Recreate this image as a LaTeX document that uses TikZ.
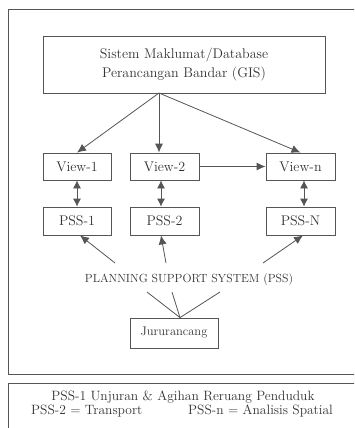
\documentclass[tikz,border=0pt]{standalone}
\usetikzlibrary{arrows.meta,calc}
\definecolor{ln}{HTML}{555555}
\definecolor{tx}{HTML}{333333}
\begin{document}
\begin{tikzpicture}[x=1pt,y=-1pt,
  box/.style={draw=ln,line width=0.8pt,text=tx,inner sep=0pt,font=\fontsize{14}{18.5}\selectfont},
  arr/.style={draw=ln,line width=0.8pt,-{Latex[length=9pt,width=8pt]}},
  darr/.style={draw=ln,line width=0.8pt,{Latex[length=8pt,width=8pt]}-{Latex[length=8pt,width=8pt]}},
  plain/.style={draw=ln,line width=0.8pt},
  lbl/.style={text=tx,inner sep=0pt}]
\useasboundingbox (0,0) rectangle (354,428);
\fill[white] (0,0) rectangle (354,428);
\begin{scope}
\clip (0,0) rectangle (354,428);
\draw[ln,line width=0.8pt] (8,9) rectangle (370,374);
\draw[ln,line width=0.8pt] (8,383) rectangle (370,440);
\end{scope}
\node[box,minimum width=282pt,minimum height=57pt,align=center] (gis) at (184,64.5)
  {Sistem Maklumat/Database\\Perancangan Bandar (GIS)};
\node[box,minimum width=68pt,minimum height=27pt] (v1) at (77,166.5) {View-1};
\node[box,minimum width=69pt,minimum height=27pt] (v2) at (164.5,166.5) {View-2};
\node[box,minimum width=69pt,minimum height=27pt] (vn) at (300.5,166.5) {View-n};
\node[box,minimum width=68pt,minimum height=28pt] (p1) at (77,221) {PSS-1};
\node[box,minimum width=69pt,minimum height=28pt] (p2) at (164.5,221) {PSS-2};
\node[box,minimum width=69pt,minimum height=28pt] (pn) at (300.5,221) {PSS-N};
\node[lbl,font=\fontsize{11.8}{14}\selectfont] (pss) at (189,280) {PLANNING SUPPORT SYSTEM (PSS)};
\node[box,minimum width=88pt,minimum height=30pt,font=\fontsize{12.5}{14}\selectfont] (jur) at (174,333) {Jururancang};
\coordinate (g) at (159,93);
\draw[arr] (g) -- (v1.north);
\draw[arr] (g) -- (v2.north -| g);
\draw[arr] (g) -- (vn.north);
\draw[arr] (v2.east) -- (vn.west);
\draw[darr] (v1.south) -- (p1.north);
\draw[darr] (v2.south -| 161,0) -- (p2.north -| 161,0);
\draw[darr] (vn.south -| 304,0) -- (pn.north -| 304,0);
\coordinate (s1) at (115,263);
\coordinate (s2) at (166,263);
\coordinate (s3) at (263,263);
\draw[arr] (s1) -- (p1.south -| 80,0);
\draw[arr] (s2) -- (p2.south -| 161,0);
\draw[arr] (s3) -- (pn.south -| 303,0);
\coordinate (j) at (jur.north -| 180,0);
\coordinate (t1) at (147,292);
\coordinate (t2) at (172,292);
\coordinate (t3) at (220,292);
\draw[plain] (j) -- (t1);
\draw[plain] (j) -- (t2);
\draw[plain] (j) -- (t3);
\node[lbl,font=\fontsize{13.5}{15}\selectfont] (leg1) at (183,397) {PSS-1 Unjuran \& Agihan Reruang Penduduk};
\node[lbl,font=\fontsize{13.5}{15}\selectfont,anchor=west] (leg2) at (31,411) {PSS-2 = Transport};
\node[lbl,font=\fontsize{13.5}{15}\selectfont,anchor=west] (leg3) at (188,411) {PSS-n = Analisis Spatial};
\end{tikzpicture}
\end{document}
